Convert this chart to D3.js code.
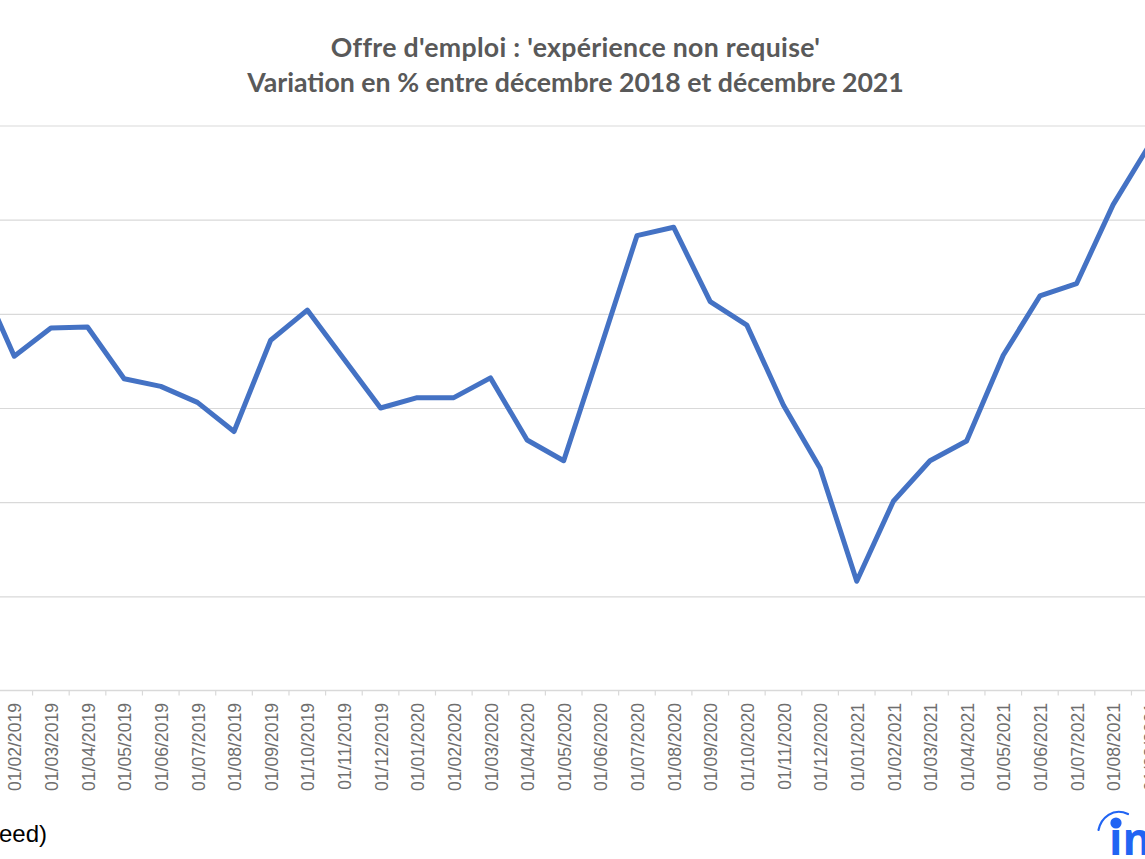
<!DOCTYPE html>
<html>
<head>
<meta charset="utf-8">
<script src="https://cdn.jsdelivr.net/npm/d3@7"></script>
<style>
  html, body { margin: 0; padding: 0; background: #fff; overflow: hidden; }
  svg { display: block; }
</style>
</head>
<body>
<div id="chart"></div>
<script>
// months from the x axis, the first and last ones fall outside the crop
var months = ["01/01/2019","01/02/2019","01/03/2019","01/04/2019","01/05/2019","01/06/2019","01/07/2019","01/08/2019","01/09/2019","01/10/2019","01/11/2019","01/12/2019",
  "01/01/2020","01/02/2020","01/03/2020","01/04/2020","01/05/2020","01/06/2020","01/07/2020","01/08/2020","01/09/2020","01/10/2020","01/11/2020","01/12/2020",
  "01/01/2021","01/02/2021","01/03/2021","01/04/2021","01/05/2021","01/06/2021","01/07/2021","01/08/2021","01/09/2021"];

// the y labels are cut off in the picture, so these are estimates on an assumed -30..30 axis
var variation = [14.3,5.5,8.5,8.6,3.1,2.3,0.6,-2.5,7.2,10.4,5.2,0,
  1.1,1.1,3.2,-3.4,-5.6,6.3,18.3,19.2,11.3,8.8,0.3,-6.4,
  -18.4,-9.9,-5.6,-3.5,5.6,11.9,13.2,21.6,28];

var gridTicks = [-20,-10,0,10,20,30];
var titleLines = ["Offre d'emploi : 'expérience non requise'", "Variation en % entre décembre 2018 et décembre 2021"];
var sourceText = "eed)";

var width = 1145, height = 859;

var svg = d3.select("#chart").append("svg")
  .attr("width", width)
  .attr("height", height);

var step = 36.63, xStart = -40.7;
var x = d3.scaleBand()
  .domain(months)
  .range([xStart, xStart + step * months.length]);

var y = d3.scaleLinear()
  .domain([-30, 30])
  .range([690.5, 125.5]);

// gridlines
var yAxis = d3.axisLeft(y).tickValues(gridTicks).tickSize(-width).tickFormat("");
svg.append("g")
  .call(yAxis)
  .call(function(g) {
    g.select(".domain").remove();
    g.selectAll("line").attr("stroke", "#d9d9d9").attr("stroke-width", 1.2);
  });

// x axis with rotated month labels, 01/01/2019 is off the picture
var xAxis = d3.axisBottom(x).tickValues(months.slice(1)).tickSize(0).tickPadding(0);
var gx = svg.append("g")
  .attr("transform", "translate(0,690.5)")
  .call(xAxis);
gx.select(".domain").attr("stroke", "#d9d9d9").attr("stroke-width", 1.4)
  .attr("d", "M-60,0H" + (width + 60));
gx.selectAll("text")
  .attr("transform", "rotate(-90)")
  .attr("x", -12.5)
  .attr("y", 1)
  .attr("dy", "0.35em")
  .attr("text-anchor", "end")
  .attr("font-family", "'Liberation Sans', Arial, sans-serif")
  .attr("font-size", 17.6)
  .attr("fill", "#6e6e6e");

// small marks between the months
gx.selectAll(".sep")
  .data(months)
  .enter().append("line")
  .attr("class", "sep")
  .attr("x1", function(d) { return x(d); })
  .attr("x2", function(d) { return x(d); })
  .attr("y1", 0)
  .attr("y2", 5)
  .attr("stroke", "#d9d9d9")
  .attr("stroke-width", 1.2);

var line = d3.line()
  .x(function(d, i) { return x(months[i]) + x.bandwidth() / 2; })
  .y(function(d) { return y(d); });

svg.append("path")
  .datum(variation)
  .attr("d", line)
  .attr("fill", "none")
  .attr("stroke", "#4472c4")
  .attr("stroke-width", 5)
  .attr("stroke-linejoin", "round");

svg.selectAll(".title")
  .data(titleLines)
  .enter().append("text")
  .attr("class", "title")
  .attr("x", 575.5)
  .attr("y", function(d, i) { return 57 + i * 34.5; })
  .attr("text-anchor", "middle")
  .attr("font-family", "Lato, sans-serif")
  .attr("font-weight", 700)
  .attr("font-size", 26.7)
  .attr("letter-spacing", function(d, i) { return i === 0 ? 0.3 : 0; })
  .attr("fill", "#595959")
  .text(function(d) { return d; });

svg.append("text")
  .attr("x", 47)
  .attr("y", 842)
  .attr("text-anchor", "end")
  .attr("font-family", "'Liberation Sans', Arial, sans-serif")
  .attr("font-size", 24)
  .attr("fill", "#000")
  .text(sourceText);

// logo in the bottom right corner
var logo = svg.append("g");
logo.append("path")
  .attr("d", "M1098.5,830 C1101,818 1113,807 1128,814")
  .attr("fill", "none")
  .attr("stroke", "#2164f3")
  .attr("stroke-width", 2.2)
  .attr("stroke-linecap", "round");
logo.append("text")
  .attr("x", 1109)
  .attr("y", 855)
  .attr("font-family", "'Open Sans', sans-serif")
  .attr("font-weight", 700)
  .attr("font-size", 44)
  .attr("fill", "#2164f3")
  .text("in");
logo.append("circle")
  .attr("cx", 1116)
  .attr("cy", 823)
  .attr("r", 5.6)
  .attr("fill", "#2164f3");
</script>
</body>
</html>
